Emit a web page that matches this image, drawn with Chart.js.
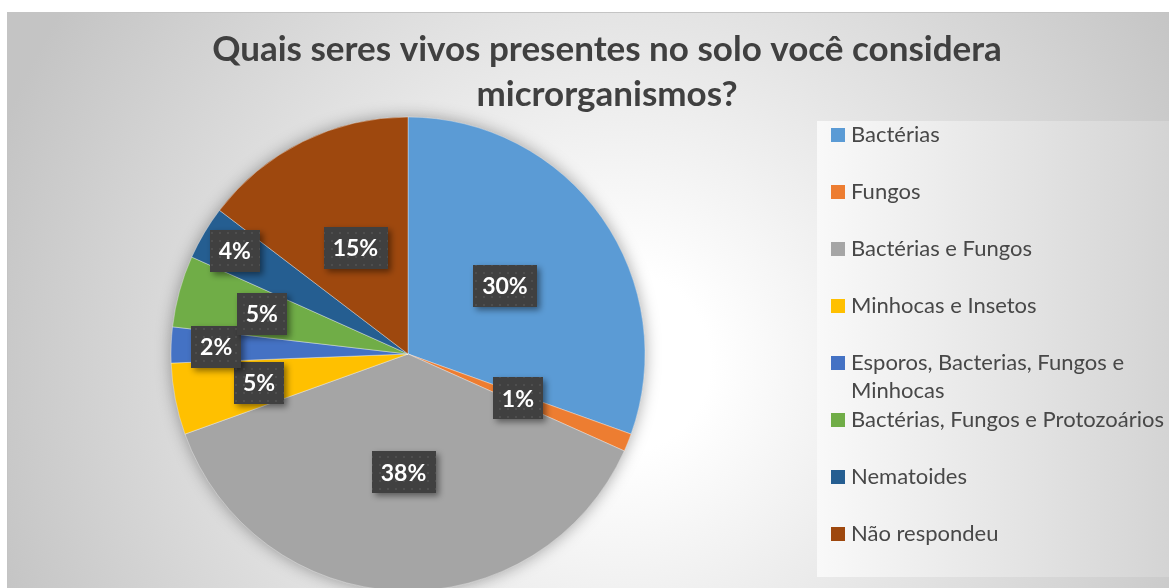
<!DOCTYPE html>
<html><head><meta charset="utf-8">
<script src="https://cdn.jsdelivr.net/npm/chart.js@4.4.1/dist/chart.umd.min.js"></script>
<style>
html,body{margin:0;padding:0;width:1169px;height:588px;overflow:hidden;background:#fff;}
#wrap{position:absolute;left:7px;top:12px;width:1170px;height:600px;border:1px solid #c4c4c4;}
canvas{display:block;}
</style></head><body>
<div id="wrap"><canvas id="c" width="1170" height="600"></canvas></div>
<script>
// ---- data ----
const titleLines = ['Quais seres vivos presentes no solo você considera', 'microrganismos?'];
const categories = ['Bactérias', 'Fungos', 'Bactérias e Fungos', 'Minhocas e Insetos',
  'Esporos, Bacterias, Fungos e Minhocas', 'Bactérias, Fungos e Protozoários', 'Nematoides', 'Não respondeu'];
const counts = [25, 1, 31, 4, 2, 4, 3, 12];
const colors = ['#5B9BD5', '#ED7D31', '#A5A5A5', '#FFC000', '#4472C4', '#70AD47', '#255E91', '#9E480E'];

// ---- plugins ----
const bgPlugin = {
  id: 'bg',
  beforeDraw(chart) {
    const ctx = chart.ctx, w = chart.width, h = chart.height;
    ctx.save();
    const g = ctx.createRadialGradient(612, 350, 90, 612, 350, 660);
    g.addColorStop(0, '#ffffff');
    g.addColorStop(1, '#c4c4c4');
    ctx.fillStyle = g;
    ctx.fillRect(0, 0, w, h);
    // legend panel
    const lg = ctx.createLinearGradient(809, 0, 1161, 0);
    lg.addColorStop(0, '#f9f9f9');
    lg.addColorStop(1, '#d4d4d4');
    ctx.fillStyle = lg;
    ctx.fillRect(809, 108, 400, 456);
    ctx.restore();
  },
  beforeDatasetsDraw(chart) {
    const arc = chart.getDatasetMeta(0).data[0];
    if (!arc) return;
    const ctx = chart.ctx;
    ctx.save();
    ctx.shadowColor = 'rgba(0,0,0,0.35)';
    ctx.shadowBlur = 16;
    ctx.fillStyle = '#a5a5a5';
    ctx.beginPath();
    ctx.arc(arc.x, arc.y, arc.outerRadius, 0, Math.PI * 2);
    ctx.fill();
    ctx.restore();
  }
};

let dotPattern = null;
function getPattern(ctx) {
  if (dotPattern) return dotPattern;
  const c = document.createElement('canvas');
  c.width = 8; c.height = 8;
  const p = c.getContext('2d');
  p.fillStyle = '#404040'; p.fillRect(0, 0, 8, 8);
  p.fillStyle = '#4e4e4e'; p.fillRect(3, 3, 2, 2);
  dotPattern = ctx.createPattern(c, 'repeat');
  return dotPattern;
}

const labelPlugin = {
  id: 'pieLabels',
  afterDatasetsDraw(chart, args, opts) {
    const ctx = chart.ctx;
    const meta = chart.getDatasetMeta(0);
    const vals = chart.data.datasets[0].data;
    const total = vals.reduce((a, b) => a + b, 0);
    ctx.save();
    ctx.font = 'bold 23px Lato';
    meta.data.forEach((arc, i) => {
      const mid = (arc.startAngle + arc.endAngle) / 2;
      const r = arc.outerRadius * opts.radial[i];
      const cx = arc.x + Math.cos(mid) * r;
      const cy = arc.y + Math.sin(mid) * r;
      const txt = Math.round(vals[i] / total * 100) + '%';
      const tw = ctx.measureText(txt).width;
      const bw = tw + 18, bh = 42;
      ctx.save();
      ctx.shadowColor = 'rgba(0,0,0,0.45)';
      ctx.shadowBlur = 6;
      ctx.shadowOffsetX = 3;
      ctx.shadowOffsetY = 3;
      ctx.fillStyle = getPattern(ctx);
      ctx.fillRect(Math.round(cx - bw / 2), Math.round(cy - bh / 2), Math.round(bw), bh);
      ctx.restore();
      ctx.fillStyle = '#ffffff';
      ctx.textAlign = 'center';
      ctx.textBaseline = 'middle';
      ctx.fillText(txt, cx, cy + 1);
    });
    ctx.restore();
  }
};

const textPlugin = {
  id: 'titleLegend',
  afterDraw(chart) {
    const ctx = chart.ctx;
    ctx.save();
    // title
    ctx.fillStyle = '#404040';
    ctx.font = 'bold 35px Lato';
    ctx.textAlign = 'center';
    ctx.textBaseline = 'alphabetic';
    ctx.fillText(titleLines[0], 599, 48);
    ctx.fillText(titleLines[1], 599, 93);
    // legend
    ctx.font = '22px Lato';
    ctx.textAlign = 'left';
    const ds = chart.data.datasets[0];
    const maxW = 322;
    chart.data.labels.forEach((lab, i) => {
      const base = 129 + i * 57;
      ctx.fillStyle = ds.backgroundColor[i];
      ctx.fillRect(823, base - 14, 14, 14);
      ctx.fillStyle = '#484848';
      const words = lab.split(' ');
      const lines = [];
      let cur = '';
      words.forEach(w => {
        const t = cur ? cur + ' ' + w : w;
        if (ctx.measureText(t).width > maxW && cur) { lines.push(cur); cur = w; }
        else cur = t;
      });
      lines.push(cur);
      lines.forEach((ln, k) => ctx.fillText(ln, 843, base + k * 28));
    });
    ctx.restore();
  }
};

function build() {
  new Chart(document.getElementById('c'), {
    type: 'pie',
    data: {
      labels: categories,
      datasets: [{
        data: counts,
        backgroundColor: colors,
        borderColor: 'rgba(255,255,255,0.6)',
        borderWidth: 0.6,
        hoverOffset: 0
      }]
    },
    options: {
      responsive: false,
      animation: false,
      events: [],
      radius: 237,
      layout: { padding: { left: 163, right: 533, top: 104, bottom: 22 } },
      plugins: {
        legend: { display: false },
        title: { display: false },
        tooltip: { enabled: false },
        pieLabels: { radial: [0.5, 0.5, 0.5, 0.64, 0.81, 0.64, 0.85, 0.5] }
      }
    },
    plugins: [bgPlugin, labelPlugin, textPlugin]
  });
}
Promise.all([
  document.fonts.load('bold 35px Lato'),
  document.fonts.load('22px Lato'),
  document.fonts.load('bold 23px Lato')
]).then(build, build);
</script>
</body></html>
